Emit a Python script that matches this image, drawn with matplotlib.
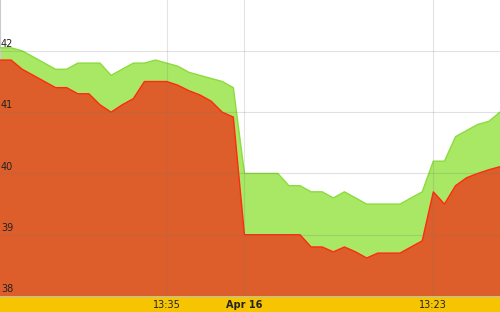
import numpy as np
import matplotlib.pyplot as plt

# High / low price series, one point per sample
high = [42.05, 42.05, 42.0, 41.9, 41.8, 41.7, 41.7, 41.8, 41.8, 41.8,
        41.6, 41.7, 41.8, 41.8, 41.85, 41.8, 41.75, 41.65, 41.6, 41.55,
        41.5, 41.4, 40.0, 40.0, 40.0, 40.0, 39.8, 39.8, 39.7, 39.7,
        39.6, 39.7, 39.6, 39.5, 39.5, 39.5, 39.5, 39.6, 39.7, 40.2,
        40.2, 40.6, 40.7, 40.8, 40.85, 41.0]
low = [41.85, 41.85, 41.7, 41.6, 41.5, 41.4, 41.4, 41.3, 41.3, 41.12,
       41.0, 41.12, 41.22, 41.5, 41.5, 41.5, 41.44, 41.35, 41.28, 41.18,
       41.0, 40.92, 39.0, 39.0, 39.0, 39.0, 39.0, 39.0, 38.8, 38.8,
       38.72, 38.8, 38.72, 38.62, 38.7, 38.7, 38.7, 38.8, 38.9, 39.7,
       39.5, 39.8, 39.93, 40.0, 40.06, 40.11]
tick_pos = [15, 22, 39]
tick_labels = ["13:35", "Apr 16", "13:23"]
y_ticks = [38, 39, 40, 41, 42]

x = np.arange(len(high))

fig = plt.figure(figsize=(5, 3.12), dpi=100, facecolor="#F6C400")
ax = fig.add_axes([0, 16 / 312, 1, 296 / 312])
ax.set_facecolor("white")

ax.fill_between(x, 38, high, color="#A8E864", lw=0, zorder=2)
ax.plot(x, high, color="#8CDC3C", lw=1, zorder=3)
ax.fill_between(x, 38, low, color="#DD5E2A", lw=0, zorder=4)
ax.plot(x, low, color="#FF2A10", lw=1, zorder=5)

ax.set_xlim(0, len(high) - 1)
ax.set_ylim(38, 42.83)

# faint grid drawn over the fills
for v in y_ticks:
    ax.axhline(v, color="#777777", lw=0.8, alpha=0.22, zorder=6)
    ax.text(0.08, v + 0.03, str(v), fontsize=7, color="#222222",
            va="bottom", ha="left", zorder=7)
for p in tick_pos:
    ax.axvline(p, color="#777777", lw=0.8, alpha=0.2, zorder=6)

ax.set_yticks([])
ax.set_xticks(tick_pos)
ax.set_xticklabels(tick_labels, fontsize=7, color="#222222")
ax.get_xticklabels()[1].set_fontweight("bold")
ax.tick_params(axis="x", length=0, pad=3)

for s in ["top", "right"]:
    ax.spines[s].set_visible(False)
ax.spines["left"].set_color("#cccccc")
ax.spines["bottom"].set_color("#bbbbbb")

fig.savefig("out.png", dpi=100, facecolor=fig.get_facecolor())
